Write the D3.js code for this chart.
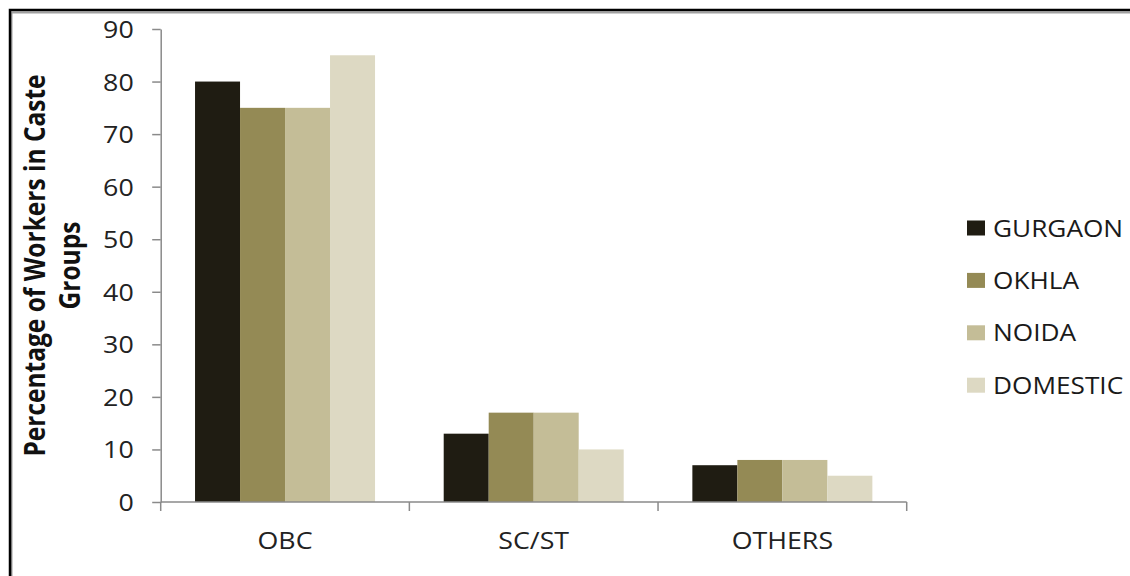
<!DOCTYPE html>
<html>
<head>
<meta charset="utf-8">
<script src="https://cdn.jsdelivr.net/npm/d3@7"></script>
<style>
  html, body { margin: 0; padding: 0; background: #fff; }
  svg { display: block; }
  text { font-family: "Open Sans", "Noto Sans", sans-serif; fill: #1e1e1e; }
</style>
</head>
<body>
<svg id="chart" width="1130" height="576"></svg>
<script>
// Caste composition of workers by location (percent)
const categories = ["OBC", "SC/ST", "OTHERS"];
const seriesNames = ["GURGAON", "OKHLA", "NOIDA", "DOMESTIC"];
const gurgaon  = [80, 13, 7];
const okhla    = [75, 17, 8];
const noida    = [75, 17, 8];
const domestic = [85, 10, 5];
const yTicks = [0, 10, 20, 30, 40, 50, 60, 70, 80, 90];
const seriesColors = ["#1f1c12", "#948a55", "#c4bd97", "#ddd9c3"];

const seriesValues = [gurgaon, okhla, noida, domestic];
const rows = categories.map((c, i) => ({
  category: c,
  values: seriesNames.map((s, j) => ({ series: s, value: seriesValues[j][i] }))
}));

const svg = d3.select("#chart");
const sx = 1.14; // horizontal glyph stretch used throughout the labels

// frame
svg.append("rect")
  .attr("x", 11.5).attr("y", 12.5).attr("width", 1300).attr("height", 800)
  .attr("fill", "none").attr("stroke", "#a0a0a0").attr("stroke-width", 2);
svg.append("rect")
  .attr("x", 10).attr("y", 10).attr("width", 1300).attr("height", 800)
  .attr("fill", "none").attr("stroke", "#000").attr("stroke-width", 2.5);

const plotLeft = 160.7, plotRight = 906.7, plotTop = 29, plotBottom = 502;

const x0 = d3.scaleBand().domain(categories).range([plotLeft, plotRight]).padding(0);
const x1 = d3.scaleBand().domain(seriesNames).range([0, x0.bandwidth()])
  .paddingInner(0).paddingOuter(0.763);
const y = d3.scaleLinear().domain([0, 90]).range([plotBottom, plotTop]);
const color = d3.scaleOrdinal().domain(seriesNames).range(seriesColors);

// bars
const groups = svg.append("g").selectAll("g").data(rows).join("g")
  .attr("transform", d => `translate(${x0(d.category)},0)`);
groups.selectAll("rect").data(d => d.values).join("rect")
  .attr("x", d => x1(d.series))
  .attr("y", d => y(d.value))
  .attr("width", x1.bandwidth())
  .attr("height", d => y(0) - y(d.value))
  .attr("fill", d => color(d.series));

// y axis
const yAxis = svg.append("g")
  .attr("transform", `translate(${plotLeft},0)`)
  .call(d3.axisLeft(y).tickValues(yTicks).tickSize(8.5).tickSizeOuter(0));
yAxis.select(".domain").attr("stroke", "#8a8a8a").attr("stroke-width", 1.5);
yAxis.selectAll(".tick line").attr("stroke", "#8a8a8a").attr("stroke-width", 1.5);
yAxis.selectAll(".tick text")
  .attr("x", null).attr("dy", "0.36em")
  .attr("transform", `translate(-27,0) scale(${sx},1)`)
  .attr("text-anchor", "end")
  .style("font-size", "23.5px").style("fill", "#222");

// x axis: labels at band centres, ticks at band boundaries
const xAxis = svg.append("g")
  .attr("transform", `translate(0,${plotBottom})`)
  .call(d3.axisBottom(x0).tickSize(0).tickSizeOuter(0));
xAxis.select(".domain").remove();
xAxis.selectAll(".tick text")
  .attr("y", null).attr("dy", null)
  .attr("transform", `translate(0,46.5) scale(${sx},1)`)
  .attr("text-anchor", "middle")
  .style("font-size", "23.5px").style("fill", "#222");

svg.append("line")
  .attr("x1", x0.range()[0]).attr("x2", x0.range()[1])
  .attr("y1", y(0)).attr("y2", y(0))
  .attr("stroke", "#8a8a8a").attr("stroke-width", 1.5);
const bounds = categories.map(c => x0(c)).concat([x0.range()[1]]);
svg.append("g").selectAll("line").data(bounds).join("line")
  .attr("x1", d => d).attr("x2", d => d)
  .attr("y1", y(0)).attr("y2", y(0) + 9)
  .attr("stroke", "#8a8a8a").attr("stroke-width", 1.5);

// y axis title (two lines)
const midY = (plotTop + plotBottom) / 2;
const titleLines = ["Percentage of Workers in Caste", "Groups"];
const titleX = [45, 80];
svg.append("g").selectAll("text").data(titleLines).join("text")
  .attr("transform", (d, i) => `translate(${titleX[i]},${midY}) scale(${sx},1) rotate(-90)`)
  .attr("text-anchor", "middle")
  .style("font-size", "24.5px").style("font-weight", "bold").style("fill", "#111")
  .text(d => d);

// legend
const legend = svg.append("g").attr("transform", "translate(967,228)");
const items = legend.selectAll("g").data(seriesNames).join("g")
  .attr("transform", (d, i) => `translate(0,${i * 52.4})`);
items.append("rect")
  .attr("x", 0).attr("y", -7.5).attr("width", 18).attr("height", 15)
  .attr("fill", d => color(d));
items.append("text")
  .attr("transform", `translate(26,8.5) scale(${sx},1)`)
  .style("font-size", "23px").style("fill", "#1a1a1a")
  .text(d => d);
</script>
</body>
</html>
